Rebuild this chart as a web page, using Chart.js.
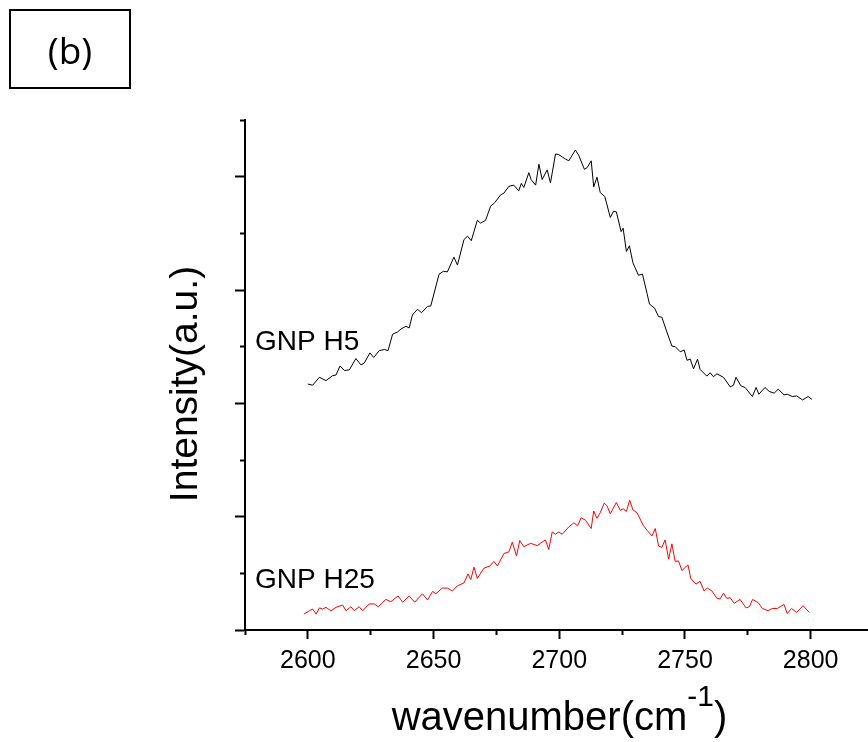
<!DOCTYPE html>
<html>
<head>
<meta charset="utf-8">
<script src="https://cdn.jsdelivr.net/npm/chart.js@4.4.1/dist/chart.umd.min.js"></script>
<style>
  html, body { margin: 0; padding: 0; background: #fff; }
  #wrap { position: relative; width: 868px; height: 742px; }
  #panel {
    position: absolute; left: 9px; top: 9px; width: 118px; height: 76px;
    border: 2px solid #000; box-sizing: content-box;
    font: 37px "Open Sans", "Noto Sans", sans-serif; color: #000;
    display: flex; align-items: center; justify-content: center;
  }
</style>
</head>
<body>
<div id="wrap">
  <canvas id="chart"></canvas>
  <div id="panel">(b)</div>
</div>
<script>
// ---------------- Data -----------------------------------------------

const seriesNames = ["GNP H5", "GNP H25"];

const h5Wavenumber = [2600.0,2601.9,2604.6,2607.2,2609.9,2611.2,2612.8,2614.5,2616.5,2619.1,2621.1,2622.4,2624.7,2626.2,2628.4,2630.4,2631.9,2633.7,2635.7,2637.0,2639.0,2640.3,2641.6,2643.6,2645.2,2647.6,2648.9,2652.2,2653.9,2655.5,2658.1,2659.5,2662.1,2663.5,2665.0,2667.4,2668.7,2670.7,2672.7,2674.3,2676.7,2678.0,2680.0,2681.9,2683.9,2684.9,2685.9,2687.9,2688.8,2690.6,2691.9,2693.2,2695.2,2696.5,2698.5,2699.8,2702.5,2703.8,2706.4,2707.7,2710.0,2711.1,2712.7,2713.7,2715.0,2716.3,2718.1,2720.3,2721.6,2722.7,2724.6,2725.4,2726.7,2727.9,2729.3,2731.5,2733.1,2734.9,2735.9,2737.9,2739.5,2740.8,2742.8,2744.8,2746.1,2748.1,2749.7,2750.8,2752.1,2753.4,2755.0,2756.0,2758.7,2760.0,2761.3,2762.7,2765.3,2768.0,2769.3,2770.3,2772.2,2773.9,2776.8,2778.3,2779.4,2781.8,2783.5,2785.5,2787.1,2789.4,2790.7,2792.7,2794.4,2796.8,2799.0,2800.5];
const h5Intensity = [434,432,446,440,449,450,466,458,459,479,468,471,489,481,493,495,493,522,526,531,536,533,556,566,560,571,572,628,633,632,658,644,689,695,687,723,718,723,748,754,768,771,783,785,775,788,781,807,795,785,822,795,812,789,840,839,831,828,847,838,813,816,828,782,799,772,765,728,739,738,703,709,668,678,648,626,628,594,575,568,553,552,526,501,500,491,494,476,478,461,478,460,448,454,447,452,446,429,432,446,431,428,412,428,416,428,421,418,425,415,416,412,413,406,412,407];

const h25Wavenumber = [2598.4,2600.6,2601.9,2603.3,2604.6,2605.9,2607.2,2609.2,2611.2,2613.8,2615.2,2617.1,2618.5,2620.4,2621.8,2624.4,2626.4,2628.0,2631.0,2633.0,2635.9,2637.7,2640.3,2642.5,2645.6,2647.6,2649.6,2650.9,2653.5,2655.5,2657.5,2659.5,2662.1,2663.7,2664.8,2666.1,2667.4,2670.0,2672.4,2674.0,2675.4,2678.0,2680.0,2681.3,2683.0,2684.3,2685.9,2688.6,2691.2,2694.5,2695.8,2697.2,2698.5,2699.8,2701.2,2703.8,2705.8,2707.3,2708.7,2710.4,2712.7,2713.7,2715.0,2716.3,2717.9,2719.0,2720.3,2722.7,2724.3,2725.4,2726.7,2728.0,2729.3,2730.9,2733.5,2734.9,2736.9,2738.2,2739.5,2740.8,2742.1,2743.5,2744.8,2746.1,2747.4,2748.8,2751.2,2752.3,2754.4,2756.0,2757.6,2758.9,2760.7,2762.7,2764.0,2765.3,2766.6,2768.0,2769.6,2771.9,2774.3,2775.6,2776.9,2779.2,2780.8,2783.1,2784.7,2786.7,2789.4,2790.7,2792.4,2794.4,2797.0,2799.4];
const h25Intensity = [28,34,37,28,39,37,40,34,40,44,34,41,34,41,34,46,46,41,54,50,60,49,60,49,64,53,68,64,74,74,69,78,83,99,89,111,91,109,113,121,113,135,138,155,131,158,147,153,149,159,142,173,169,173,169,182,189,184,198,194,179,210,197,207,224,219,205,225,211,214,209,229,212,207,184,176,166,179,148,146,159,125,152,121,122,105,115,91,81,86,69,74,69,56,55,65,56,57,47,54,39,41,54,48,38,34,38,38,45,29,38,31,43,31];

const xMajorTicks = [2600, 2650, 2700, 2750, 2800];
const xMinorTicks = [2575, 2625, 2675, 2725, 2775];
const yMajorTicks = [0, 200, 400, 600, 800];
const yMinorTicks = [100, 300, 500, 700, 900];

// ---------------- Helpers -----------------------

const FONT = '"Liberation Sans", Arial, sans-serif';

function toPoints(xs, ys) {
  const n = Math.min(xs.length, ys.length);
  const pts = [];
  for (let i = 0; i < n; i++) pts.push({ x: xs[i], y: ys[i] });
  return pts;
}

function fixTicks(values) {
  return (axis) => { axis.ticks = values.map((v) => ({ value: v })); };
}

// series names, y title and the x title with its superscript
const textPlugin = {
  id: "textPlugin",
  afterDraw(chart) {
    const { ctx, chartArea, scales } = chart;
    ctx.save();
    ctx.fillStyle = "#000";
    ctx.textAlign = "left";
    ctx.textBaseline = "middle";
    ctx.font = "28px " + FONT;
    const levels = [508, 88];
    seriesNames.forEach((name, i) => {
      ctx.fillText(name, chartArea.left + 10, scales.y.getPixelForValue(levels[i]));
    });

    // y title
    ctx.save();
    ctx.translate(186, (chartArea.top + chartArea.bottom) / 2 + 9);
    ctx.rotate(-Math.PI / 2);
    ctx.textAlign = "center";
    ctx.font = "39px " + FONT;
    ctx.fillText("Intensity(a.u.)", 0, 0);
    ctx.restore();

    // x title
    const main = "40px " + FONT;
    const sup = "30px " + FONT;
    ctx.textBaseline = "alphabetic";
    ctx.font = main;
    const w1 = ctx.measureText("wavenumber(cm").width;
    const w3 = ctx.measureText(")").width;
    ctx.font = sup;
    const w2 = ctx.measureText("-1").width;
    let x = (chartArea.left + chartArea.right) / 2 + 3 - (w1 + w2 + w3) / 2;
    const base = 730;
    ctx.font = main;
    ctx.fillText("wavenumber(cm", x, base);
    x += w1;
    ctx.font = sup;
    ctx.fillText("-1", x, base - 24);
    x += w2;
    ctx.font = main;
    ctx.fillText(")", x, base);
    ctx.restore();
  }
};

// ---------------- Chart -----------------------

document.addEventListener("DOMContentLoaded", () => {
  const canvas = document.getElementById("chart");
  canvas.width = 868;
  canvas.height = 742;

  const axisBorder = { display: true, color: "#000", width: 2 };

  new Chart(canvas, {
    type: "line",
    data: {
      datasets: [
        {
          label: seriesNames[0],
          data: toPoints(h5Wavenumber, h5Intensity),
          borderColor: "#000000",
          borderWidth: 1,
          pointRadius: 0,
          tension: 0,
          fill: false
        },
        {
          label: seriesNames[1],
          data: toPoints(h25Wavenumber, h25Intensity),
          borderColor: "#ff0000",
          borderWidth: 1,
          pointRadius: 0,
          tension: 0,
          fill: false
        }
      ]
    },
    options: {
      responsive: false,
      animation: false,
      events: [],
      layout: { padding: { top: 120, right: 0, left: 0, bottom: 0 } },
      plugins: { legend: { display: false }, tooltip: { enabled: false } },
      scales: {
        x: {
          type: "linear",
          position: "bottom",
          weight: 1,
          min: 2575,
          max: 2822.8,
          afterBuildTicks: fixTicks(xMajorTicks),
          afterFit: (s) => { s.height = 112; },
          border: axisBorder,
          grid: { drawOnChartArea: false, drawTicks: true, tickLength: 9, tickWidth: 2, tickColor: "#000" },
          ticks: {
            color: "#000",
            padding: 7,
            maxRotation: 0,
            autoSkip: false,
            font: { family: FONT, size: 25 },
            callback: (v) => String(v)
          }
        },
        xMinor: {
          type: "linear",
          position: "bottom",
          weight: 0,
          min: 2575,
          max: 2822.8,
          afterBuildTicks: fixTicks(xMinorTicks),
          afterFit: (s) => { s.height = 0; },
          border: axisBorder,
          grid: { drawOnChartArea: false, drawTicks: true, tickLength: 5, tickWidth: 2, tickColor: "#000" },
          ticks: { display: false }
        },
        y: {
          type: "linear",
          position: "left",
          weight: 1,
          min: 0,
          max: 900,
          afterBuildTicks: fixTicks(yMajorTicks),
          afterFit: (s) => { s.width = 245; },
          border: axisBorder,
          grid: { drawOnChartArea: false, drawTicks: true, tickLength: 10, tickWidth: 2, tickColor: "#000" },
          ticks: { display: false }
        },
        yMinor: {
          type: "linear",
          position: "left",
          weight: 0,
          min: 0,
          max: 900,
          afterBuildTicks: fixTicks(yMinorTicks),
          afterFit: (s) => { s.width = 0; },
          border: axisBorder,
          grid: { drawOnChartArea: false, drawTicks: true, tickLength: 5, tickWidth: 2, tickColor: "#000" },
          ticks: { display: false }
        }
      }
    },
    plugins: [textPlugin]
  });
});
</script>
</body>
</html>
